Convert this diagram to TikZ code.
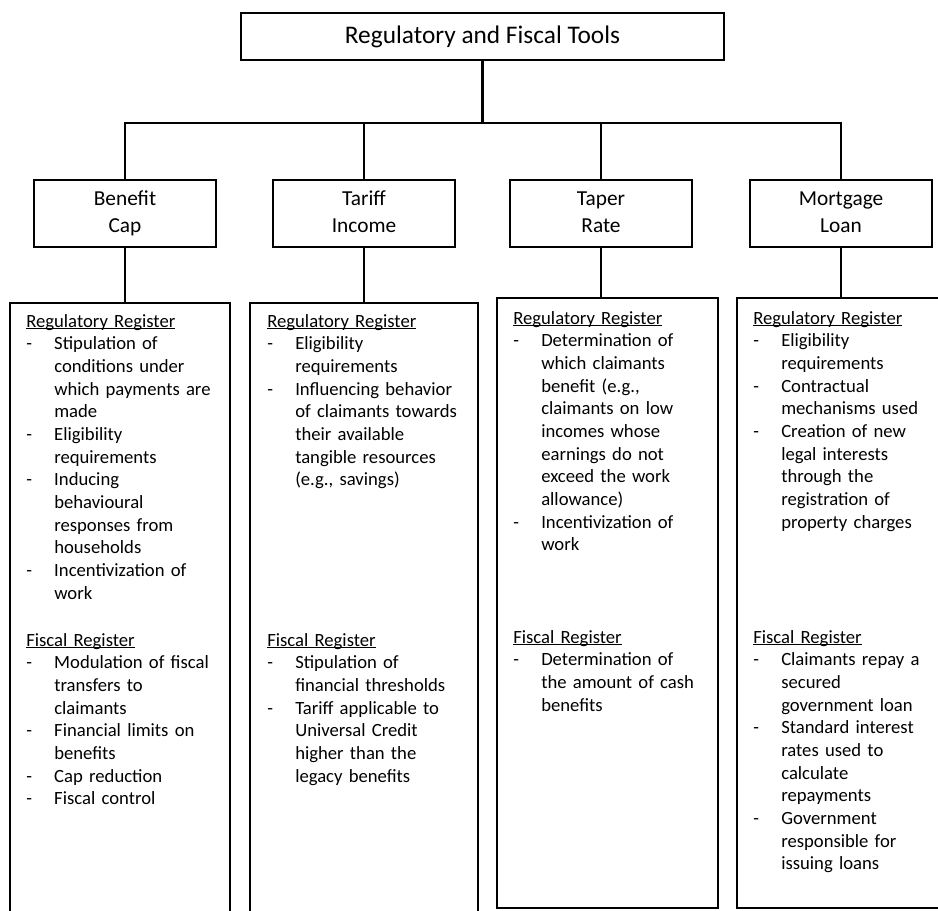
\documentclass[tikz,border=0pt]{standalone}
\usepackage{fontspec}
\setmainfont{Carlito}
\newcommand\ulhead[1]{\setbox0\hbox{#1}\rlap{\rule[-1.6pt]{\wd0}{0.5pt}}\box0}
\newcommand\dsh{\makebox[21pt][l]{-}}
\newcommand\ind{\hspace*{21pt}}
\begin{document}
\begin{tikzpicture}[x=0.75pt,y=-0.75pt,
  box/.style={draw, line width=1.9pt, inner sep=0pt},
  subbox/.style={box, minimum width=136.5pt, minimum height=50.25pt, align=center, font=\fontsize{16pt}{20pt}\selectfont},
  conn/.style={line width=1.9pt},
  body/.style={inner sep=0pt, anchor=base west, text width=150pt, align=left, font=\fontsize{14pt}{17pt}\selectfont}]
\useasboundingbox (0,0) rectangle (938,910);
\clip (0,0) rectangle (938,910);
\fill[white] (0,0) rectangle (938,910);
% top
\node[box, minimum width=362.25pt, minimum height=35.25pt, font=\fontsize{19pt}{23pt}\selectfont] (top) at (482.5,36.5) {Regulatory and Fiscal Tools};
% sub boxes
\node[subbox] (b1) at (125,213.5) {Benefit\strut\\Cap\strut};
\node[subbox] (b2) at (364,213.5) {Tariff\strut\\Income\strut};
\node[subbox] (b3) at (601,213.5) {Taper\strut\\Rate\strut};
\node[subbox] (b4) at (841,213.5) {Mortgage\strut\\Loan\strut};
% lower boxes
\node[box, minimum width=165pt, minimum height=462.75pt] (l1) at (120,611.5) {};
\node[box, minimum width=171pt, minimum height=462.75pt] (l2) at (364,611.5) {};
\node[box, minimum width=165.75pt, minimum height=457.5pt] (l3) at (607.5,603) {};
\node[box, minimum width=156pt, minimum height=457.5pt] (l4) at (841,603) {};
% connectors
\coordinate (bus) at (482.5,123);
\draw[conn] (top.south) -- (top.south |- bus);
\draw[conn] (b1.north) -- (b1.north |- bus) -| (b4.north);
\draw[conn] (b2.north) -- (b2.north |- bus);
\draw[conn] (b3.north) -- (b3.north |- bus);
\draw[conn] (b1.south) -- (b1.south |- l1.north);
\draw[conn] (b2.south) -- (b2.south |- l2.north);
\draw[conn] (b3.south) -- (b3.south |- l3.north);
\draw[conn] (b4.south) -- (b4.south |- l4.north);
% texts box 1
\node[body] (r1) at (26,327) {\ulhead{Regulatory Register}\\
\dsh Stipulation of\\ \ind conditions under\\ \ind which payments are\\ \ind made\\
\dsh Eligibility\\ \ind requirements\\
\dsh Inducing\\ \ind behavioural\\ \ind responses from\\ \ind households\\
\dsh Incentivization of\\ \ind work};
\node[body] (f1) at (26,646) {\ulhead{Fiscal Register}\\
\dsh Modulation of fiscal\\ \ind transfers to\\ \ind claimants\\
\dsh Financial limits on\\ \ind benefits\\
\dsh Cap reduction\\
\dsh Fiscal control};
% box 2
\node[body] (r2) at (267,327) {\ulhead{Regulatory Register}\\
\dsh Eligibility\\ \ind requirements\\
\dsh Influencing behavior\\ \ind of claimants towards\\ \ind their available\\ \ind tangible resources\\ \ind (e.g., savings)};
\node[body] (f2) at (267,646) {\ulhead{Fiscal Register}\\
\dsh Stipulation of\\ \ind financial thresholds\\
\dsh Tariff applicable to\\ \ind Universal Credit\\ \ind higher than the\\ \ind legacy benefits};
% box 3
\node[body] (r3) at (513,324) {\ulhead{Regulatory Register}\\
\dsh Determination of\\ \ind which claimants\\ \ind benefit (e.g.,\\ \ind claimants on low\\ \ind incomes whose\\ \ind earnings do not\\ \ind exceed the work\\ \ind allowance)\\
\dsh Incentivization of\\ \ind work};
\node[body] (f3) at (513,643) {\ulhead{Fiscal Register}\\
\dsh Determination of\\ \ind the amount of cash\\ \ind benefits};
% box 4
\node[body] (r4) at (753,324) {\ulhead{Regulatory Register}\\
\dsh Eligibility\\ \ind requirements\\
\dsh Contractual\\ \ind mechanisms used\\
\dsh Creation of new\\ \ind legal interests\\ \ind through the\\ \ind registration of\\ \ind property charges};
\node[body] (f4) at (753,643) {\ulhead{Fiscal Register}\\
\dsh Claimants repay a\\ \ind secured\\ \ind government loan\\
\dsh Standard interest\\ \ind rates used to\\ \ind calculate\\ \ind repayments\\
\dsh Government\\ \ind responsible for\\ \ind issuing loans};
\end{tikzpicture}
\end{document}
